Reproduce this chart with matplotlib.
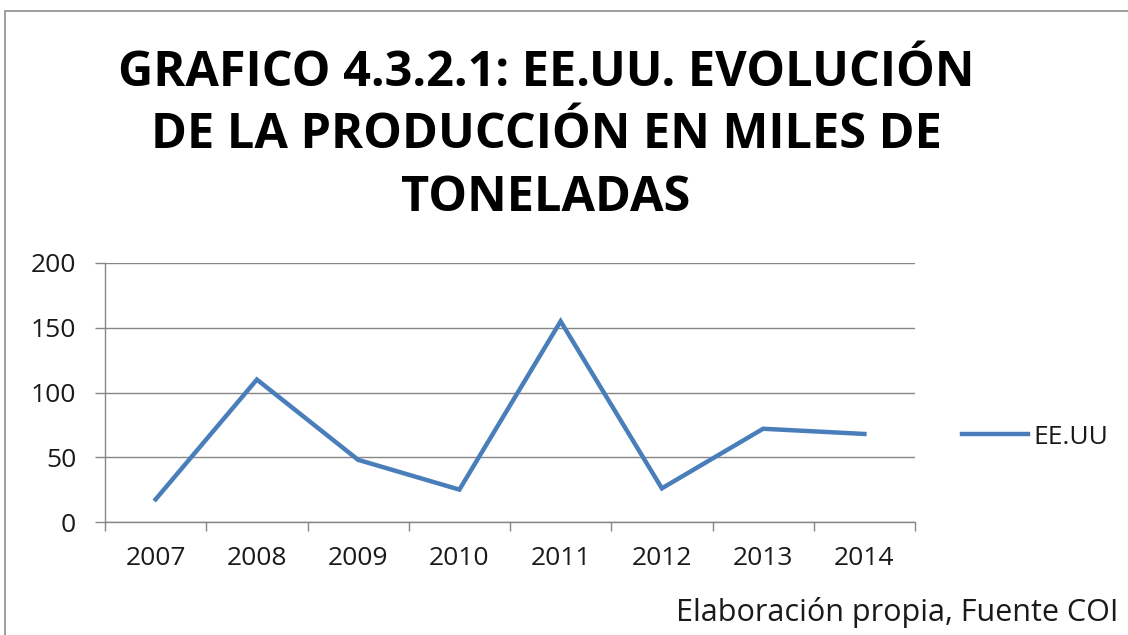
import numpy as np
import matplotlib.pyplot as plt
from matplotlib.patches import Rectangle

years = ['2007', '2008', '2009', '2010', '2011', '2012', '2013', '2014']
eeuu = [17.5, 110, 48, 25, 155, 26, 72, 68]
yticks = [0, 50, 100, 150, 200]

W, H = 1128, 635
plt.rcParams['font.family'] = ['Open Sans', 'DejaVu Sans']

fig = plt.figure(figsize=(W / 100, H / 100), dpi=100)
fig.patch.set_facecolor('white')

# chart frame (runs off the right and bottom edges)
fig.patches.append(Rectangle((5 / W, -0.1), 1.2, 1 - 11 / H + 0.1,
                             transform=fig.transFigure, fill=False,
                             edgecolor='#8c8c8c', linewidth=1.2))

ax = fig.add_axes([105 / W, (H - 522) / H, (915 - 105) / W, (522 - 263) / H])
x = np.arange(len(years))
ax.plot(x, eeuu, color='#4a7ebb', linewidth=3.2, solid_joinstyle='miter',
        label='EE.UU')

ax.set_xlim(-0.5, len(years) - 0.5)
ax.set_ylim(0, 200)
ax.set_yticks(yticks)
ax.set_yticklabels([str(v) for v in yticks], fontsize=19, color='#1a1a1a')
ax.set_xticks(x)
ax.set_xticklabels(years, fontsize=19, color='#1a1a1a')
ax.tick_params(axis='x', which='major', length=0, pad=17)
ax.set_xticks(np.arange(-0.5, len(years)), minor=True)
ax.tick_params(axis='x', which='minor', length=6.5, color='#868686', width=1)
ax.tick_params(axis='y', length=7.2, color='#868686', width=1, pad=13.5)
ax.grid(axis='y', color='#868686', linewidth=1)
ax.set_axisbelow(True)
for s in ['top', 'right']:
    ax.spines[s].set_visible(False)
for s in ['left', 'bottom']:
    ax.spines[s].set_color('#868686')
    ax.spines[s].set_linewidth(1)

fig.legend(loc='center left', bbox_to_anchor=(938 / W, (H - 437) / H),
           frameon=False, fontsize=19, handlelength=2.5, handletextpad=0.2,
           labelcolor='#1a1a1a')

fig.text(546 / W, (H - 136) / H,
         'GRAFICO 4.3.2.1: EE.UU. EVOLUCIÓN\nDE LA PRODUCCIÓN EN MILES DE\nTONELADAS',
         ha='center', va='center', fontsize=35, fontweight='bold',
         linespacing=1.36, color='black')
fig.text(1118 / W, (H - 612) / H, 'Elaboración propia, Fuente COI',
         ha='right', va='center', fontsize=22, color='#1a1a1a')

fig.savefig('out.png', dpi=100, facecolor='white')
